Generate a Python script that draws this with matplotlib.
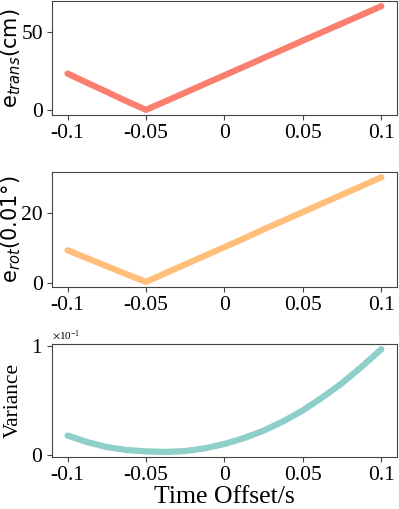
import matplotlib
matplotlib.use("Agg")
import matplotlib.pyplot as plt
from matplotlib.ticker import ScalarFormatter

plt.rcParams['font.family'] = 'Liberation Serif'
plt.rcParams['mathtext.fontset'] = 'stix'
plt.rcParams['axes.unicode_minus'] = False

# time offsets (s)
t = [-0.1, -0.0875, -0.075, -0.0625, -0.05, -0.0375, -0.025, -0.0125, 0.0,
     0.0125, 0.025, 0.0375, 0.05, 0.0625, 0.075, 0.0875, 0.1]
e_trans = [23.5, 17.6, 11.8, 5.9, 0.3, 5.8, 11.3, 16.9, 22.4,
           27.9, 33.5, 39.0, 44.6, 50.1, 55.6, 61.1, 66.6]
e_rot = [9.4, 7.1, 4.8, 2.5, 0.3, 2.8, 5.3, 7.8, 10.3,
         12.8, 15.4, 17.9, 20.4, 22.9, 25.4, 27.9, 30.4]
variance = [0.018, 0.012, 0.0075, 0.0048, 0.0035, 0.003, 0.0038, 0.0063, 0.0103,
            0.0157, 0.0225, 0.031, 0.041, 0.053, 0.066, 0.081, 0.097]

xticks = [-0.1, -0.05, 0, 0.05, 0.1]
xticklabels = ['-0.1', '-0.05', '0', '0.05', '0.1']

fig = plt.figure(figsize=(3.99, 5.09), dpi=100)
ax1 = fig.add_axes([0.130, 0.774, 0.865, 0.224])
ax2 = fig.add_axes([0.130, 0.436, 0.865, 0.226])
ax3 = fig.add_axes([0.130, 0.102, 0.865, 0.222])

ax1.plot(t, e_trans, color='#FA7F6F', linewidth=4.5, solid_capstyle='round')
ax2.plot(t, e_rot, color='#FFBE7A', linewidth=4.5, solid_capstyle='round')
ax3.plot(t, variance, color='#8ECFC9', linewidth=4.5, solid_capstyle='round')

ax1.set_yticks([0, 50])
ax2.set_yticks([0, 20])
ax3.set_yticks([0, 0.1])
fmt = ScalarFormatter(useMathText=True)
fmt.set_powerlimits((-1, -1))
ax3.yaxis.set_major_formatter(fmt)
ax3.yaxis.get_offset_text().set_fontsize(8)

ax1.set_ylabel(r'e$_{trans}$(cm)', fontsize=15, family='DejaVu Sans',
               math_fontfamily='dejavusans')
ax2.set_ylabel(r'e$_{rot}$(0.01°)', fontsize=15, family='DejaVu Sans',
               math_fontfamily='dejavusans')
ax3.set_ylabel('Variance', fontsize=15.5)
ax3.set_xlabel('Time Offset/s', fontsize=18.5, labelpad=1)

for ax in (ax1, ax2, ax3):
    ax.set_xticks(xticks)
    ax.set_xticklabels(xticklabels)
    ax.tick_params(labelsize=15.5, color='#444444', pad=3)
    ax.yaxis.set_label_coords(-0.085, 0.5)
    for s in ax.spines.values():
        s.set_color('#444444')

fig.savefig('out.png', dpi=100)
